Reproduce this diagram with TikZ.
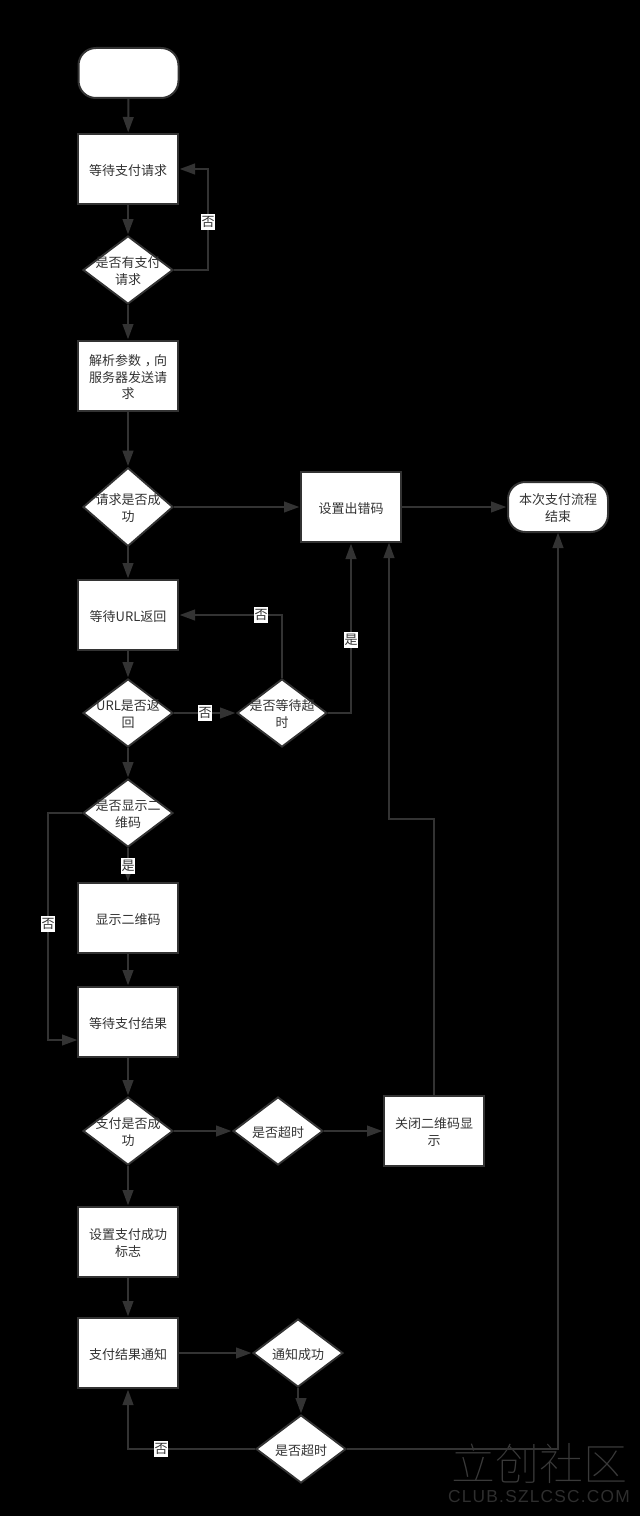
\documentclass[tikz,border=0pt]{standalone}
\usepackage{fontspec}
\setmainfont{Noto Sans CJK SC}
\newfontfamily\wmfont[LetterSpace=7]{Liberation Sans}
\newfontfamily\wmcjk{Noto Sans CJK SC Thin}
\usetikzlibrary{shapes.geometric,arrows.meta}
\definecolor{ink}{HTML}{333333}
\definecolor{wm}{HTML}{3A3A3A}
\definecolor{wmb}{HTML}{2E2E2E}
\newcommand{\dtext}[1]{\smash{\makebox[0pt]{\raisebox{-4.6pt}{\begin{tabular}{@{}c@{}}#1\end{tabular}}}}}
\newcommand{\widecomma}{\hspace{.3em}\makebox[.7em][l]{，}}
\tikzset{
  base/.style={draw=ink,line width=1.5pt,fill=white,text=ink,font=\fontsize{9.75}{12.2}\selectfont,inner sep=0pt},
  procbox/.style={base,rectangle,minimum width=75pt,minimum height=52.5pt},
  termbox/.style={base,rectangle,rounded corners=13pt,minimum width=75pt,minimum height=37.5pt},
  decide/.style={base,diamond,minimum width=67.5pt,minimum height=51pt,line width=1.4pt},
  link/.style={draw=ink,line width=1.5pt,-{Triangle[length=11.5pt,width=8pt]},shorten >=0.5pt},
  tag/.style={fill=white,text=ink,font=\fontsize{9.75}{12}\selectfont,inner sep=0.4pt,minimum height=12pt,minimum width=9.75pt}
}
\begin{document}
\begin{tikzpicture}[x=0.75pt,y=-0.75pt]
\useasboundingbox[fill=black] (0,0) rectangle (640,1516);
% watermark
\node (wmcn) [text=wm,font=\fontsize{33}{33}\selectfont\wmcjk,inner sep=0pt] at (539,1463) {立创社区};
\node (wmen) [text=wmb,font=\fontsize{13}{13}\selectfont\wmfont,inner sep=0pt] at (539,1497) {CLUB.SZLCSC.COM};
% nodes
\node (start) [termbox] at (128.5,73) {};
\node (r1) [procbox] at (128,169) {\dtext{等待支付请求}};
\node (d1) [decide] at (128,270) {\dtext{是否有支付\\请求}};
\node (r2) [procbox] at (128,376) {\dtext{解析参数\widecomma 向\\服务器发送请\\求}};
\node (d2) [decide,minimum height=59pt] at (128,507) {\dtext{请求是否成\\功}};
\node (err) [procbox] at (351,507) {\dtext{设置出错码}};
\node (end) [termbox] at (558,507) {\dtext{本次支付流程\\结束}};
\node (r3) [procbox] at (128,615) {\dtext{等待URL返回}};
\node (d3) [decide] at (128,713) {\dtext{URL是否返\\回}};
\node (d4) [decide] at (282,713) {\dtext{是否等待超\\时}};
\node (d5) [decide] at (128,813) {\dtext{是否显示二\\维码}};
\node (r4) [procbox] at (128,918) {\dtext{显示二维码}};
\node (r5) [procbox] at (128,1022) {\dtext{等待支付结果}};
\node (d6) [decide] at (128,1131) {\dtext{支付是否成\\功}};
\node (d7) [decide] at (278,1131) {\dtext{是否超时}};
\node (r6) [procbox] at (434,1131) {\dtext{关闭二维码显\\示}};
\node (r7) [procbox] at (128,1242) {\dtext{设置支付成功\\标志}};
\node (r8) [procbox] at (128,1353) {\dtext{支付结果通知}};
\node (d8) [decide] at (298,1353) {\dtext{通知成功}};
\node (d9) [decide] at (301,1449) {\dtext{是否超时}};
% bend coordinates
\coordinate (e1) at (389,542);
\coordinate (e2) at (558,532);
\coordinate (e3) at (78,1040);
\coordinate (k1) at (434,819);
\coordinate (k2) at (389,819);
\coordinate (k3) at (298,1401);
\coordinate (k4) at (301,1401);
% connectors
\draw[link] (start) -- (r1);
\draw[link] (r1) -- (d1);
\draw[link] (d1) -- (r2);
\draw[link] (r2) -- (d2);
\draw[link] (d2) -- (r3);
\draw[link] (d2) -- (err);
\draw[link] (err) -- (end);
\draw[link] (r3) -- (d3);
\draw[link] (d3) -- (d5);
\draw[link] (d3) -- (d4);
\draw[link] (d5) -- (r4);
\draw[link] (r4) -- (r5);
\draw[link] (r5) -- (d6);
\draw[link] (d6) -- (d7);
\draw[link] (d7) -- (r6);
\draw[link] (d6) -- (r7);
\draw[link] (r7) -- (r8);
\draw[link] (r8) -- (d8);
\draw[link] (d1.east) -| (208,169) -- (r1.east);
\draw[link] (d4.north) |- (r3.east);
\draw[link] (d4.east) -| (err.south);
\draw[link] (d5.west) -| (48,1040) -- (e3);
\draw[link] (r6.north) -- (k1) -- (k2) -- (e1);
\draw[link] (d8.south) -- (k3) -- (k4) -- (d9.north);
\draw[link] (d9.west) -| (r8.south);
\draw[link] (d9.east) -| (e2);
% labels
\node (t1) [tag] at (208,222) {否};
\node (t2) [tag] at (261,615) {否};
\node (t3) [tag] at (351,640) {是};
\node (t4) [tag] at (205,713) {否};
\node (t5) [tag] at (128,866) {是};
\node (t6) [tag] at (48,924) {否};
\node (t7) [tag] at (161,1449) {否};
\end{tikzpicture}
\end{document}
